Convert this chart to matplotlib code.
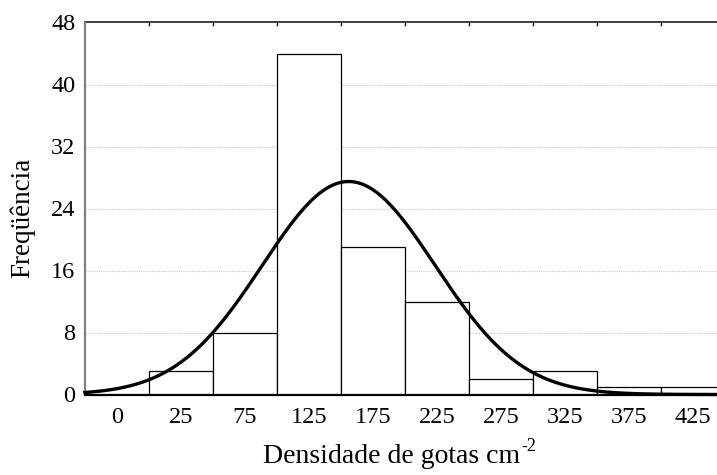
import numpy as np
import matplotlib.pyplot as plt

plt.rcParams["font.family"] = ["Liberation Serif", "DejaVu Serif"]

# histogram bins (class labels) and counts
bin_labels = ["0", "25", "75", "125", "175", "225", "275", "325", "375", "425"]
counts = [0, 3, 8, 44, 19, 12, 2, 3, 1, 1]

# fitted normal curve, in bin-index units
FIT_MEAN = 4.12
FIT_SD = 1.35

yticks = [0, 8, 16, 24, 32, 40, 48]


def main():
    fig = plt.figure(figsize=(7.17, 4.75), dpi=100)
    # axes runs a little past the right edge of the image, as in the original
    ax = fig.add_axes([85 / 717, 80.5 / 475, 640 / 717, 372 / 475])

    n = len(counts)
    x = np.arange(n)
    ax.bar(x, counts, width=1.0, align="edge", color="white",
           edgecolor="black", linewidth=0.9, zorder=2)

    total = sum(counts)
    xs = np.linspace(0, n, 400)
    ys = total / (FIT_SD * np.sqrt(2 * np.pi)) * np.exp(-0.5 * ((xs - FIT_MEAN) / FIT_SD) ** 2)
    ax.plot(xs, ys, color="black", linewidth=2.4, zorder=3, clip_on=False)

    ax.set_xlim(0, n)
    ax.set_ylim(0, 48)
    ax.set_yticks(yticks)
    ax.set_xticks(x + 0.5)
    ax.set_xticklabels(bin_labels)
    ax.tick_params(axis="both", length=0, labelsize=17.5)
    ax.tick_params(axis="x", pad=9)
    ax.tick_params(axis="y", pad=7)

    # bin-edge ticks along the top
    top = ax.secondary_xaxis("top")
    top.set_xticks(x[1:])
    top.set_xticklabels([])
    top.tick_params(direction="in", length=3, width=1, color="#222222")
    top.spines["top"].set_color("#333333")
    top.spines["top"].set_linewidth(1.3)

    for ytk in yticks[1:-1]:
        ax.axhline(ytk, color="#c8c8c8", linestyle=(0, (1, 1)),
                   linewidth=0.8, zorder=1)

    ax.spines["right"].set_visible(False)
    ax.spines["top"].set_visible(False)
    ax.spines["left"].set_color("#808080")
    ax.spines["left"].set_linewidth(1.6)
    ax.spines["bottom"].set_color("black")
    ax.spines["bottom"].set_linewidth(1.6)

    ax.set_xlabel("Densidade de gotas cm", fontsize=20)
    ax.xaxis.set_label_coords(0.479, -0.132)
    ax.set_ylabel("Freqüência", fontsize=19.5)
    ax.yaxis.set_label_coords(-0.078, 0.474)

    # superscript "-2" with a plain hyphen, placed after the label
    renderer = fig.canvas.get_renderer()
    bb = ax.xaxis.label.get_window_extent(renderer)
    fig.text(bb.x1 + 1, bb.y0 + 6 + 12, "-2", fontsize=13,
             ha="left", va="baseline", transform=None)

    fig.savefig("out.png", dpi=100)
    plt.close(fig)


if __name__ == "__main__":
    main()
